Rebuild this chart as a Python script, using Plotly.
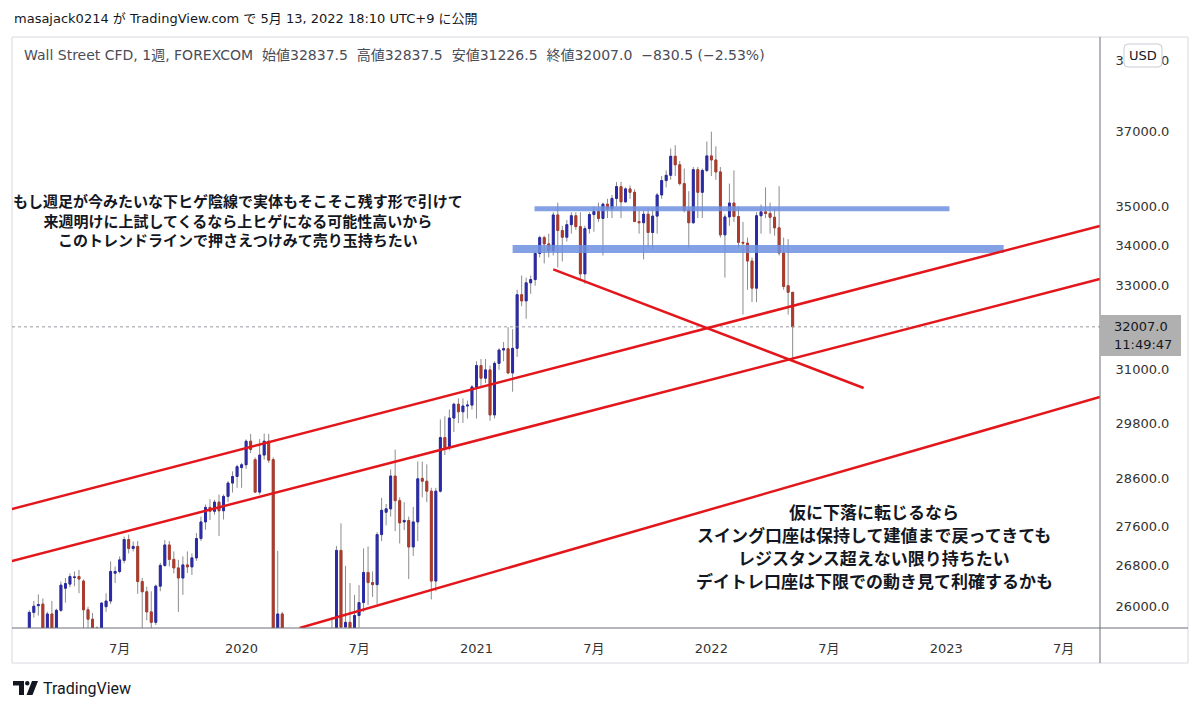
import math
import pandas as pd
import plotly.graph_objects as go

# ---------------- data (weekly candles, Wall Street CFD) ----------------
week_start = "2019-02-11"
open_ = [25110, 25890, 26020, 26050, 25460, 25860, 25510, 25930, 26360, 26440,
         26570, 26590, 26500, 25940, 25760, 25590, 24820, 26000, 26110, 26655,
         26690, 26910, 27330, 27150, 27190, 26490, 26290, 25900, 25700, 26400,
         26810, 27220, 26930, 26760, 26560, 26820, 26780, 26960, 27350, 27690,
         27990, 27910, 28100, 27920, 28220, 28500, 28640, 28830, 28890, 29400,
         29000, 28310, 29100, 29400, 29000, 25200, 25860, 23190, 19170, 21640,
         21050, 23720, 24240, 23780, 23720, 24330, 23690, 24470, 25380, 27110,
         25610, 25700, 25020, 25830, 26080, 26670, 26470, 26430, 27430, 27890,
         27960, 28650, 28130, 27690, 27720, 27180, 27690, 28600, 28540, 28330,
         26500, 28330, 29480, 29260, 29910, 30220, 30050, 30180, 30200, 30610,
         31100, 30810, 31000, 29980, 31150, 31460, 31490, 30930, 31500, 32780,
         32630, 33070, 33150, 33800, 34200, 34040, 33870, 34780, 34380, 34210,
         34530, 34760, 34480, 33290, 34430, 34790, 34870, 34690, 35060, 34940,
         35210, 35520, 35120, 35460, 35370, 34610, 34580, 34800, 34330, 34750,
         35300, 35680, 35820, 36330, 36100, 35600, 34900, 34580, 35970, 35370,
         35950, 36340, 36230, 35910, 34270, 34730, 35090, 34740, 34080, 34060,
         33610, 32940, 34760, 34860, 34820, 34720, 34450, 33810, 33000, 32837.5]
high = [25930, 26110, 26240, 26160, 25900, 26110, 25960, 26490, 26560, 26650,
        26690, 26720, 26530, 26000, 25880, 25620, 26080, 26260, 26890, 26790,
        26990, 27390, 27430, 27290, 27300, 26560, 26390, 26300, 26430, 26860,
        27320, 27300, 27090, 26920, 26990, 27090, 27050, 27460, 27800, 28050,
        28160, 28150, 28260, 28260, 28540, 28750, 28890, 28930, 29440, 29560,
        29050, 29450, 29570, 29560, 29050, 27100, 25900, 23500, 22600, 22300,
        23900, 24300, 24300, 24800, 24400, 24400, 24800, 25800, 27200, 27660,
        26800, 26460, 26230, 26420, 27150, 27190, 26690, 27480, 28190, 28060,
        28790, 29220, 28200, 28100, 27800, 28000, 28960, 28960, 28900, 28400,
        28400, 29880, 29950, 30100, 30250, 30350, 30350, 30300, 30650, 31200,
        31250, 31250, 31100, 31200, 31500, 31650, 32000, 31950, 32900, 33250,
        33200, 33250, 33850, 34250, 34250, 34300, 34850, 35100, 34500, 34650,
        34850, 34850, 34850, 34500, 34850, 35000, 35100, 35100, 35200, 35300,
        35640, 35650, 35500, 35550, 35450, 34900, 34900, 34950, 34950, 35350,
        35800, 35950, 36540, 36630, 36200, 36000, 35400, 36040, 36040, 36000,
        36730, 37000, 36600, 36040, 34800, 35600, 35950, 35000, 34600, 34200,
        33700, 34850, 35050, 35500, 35100, 34950, 35530, 34200, 34160, 32837.5]
low = [24950, 25790, 25830, 25200, 25350, 25210, 25330, 25900, 26080, 26380,
       26400, 26260, 25500, 25220, 25450, 24680, 24700, 25900, 26050, 26460,
       26650, 26850, 27050, 27090, 26250, 25580, 25740, 25560, 25650, 26300,
       26780, 26790, 26650, 25900, 26230, 26660, 26620, 26900, 27300, 27530,
       27730, 27840, 27400, 27740, 28100, 28300, 28400, 28400, 28800, 29140,
       28290, 28260, 29000, 28930, 24680, 24900, 21150, 18200, 18900, 20700,
       21000, 23000, 23100, 23600, 23300, 23200, 23600, 24400, 25300, 25100,
       25100, 24850, 24800, 25600, 25900, 26030, 26190, 26050, 27300, 27620,
       27800, 27500, 27250, 27520, 26540, 27000, 27300, 28200, 28100, 26140,
       26300, 28300, 29100, 29200, 29600, 29800, 29800, 29900, 30100, 29900,
       30600, 30700, 29850, 29900, 31000, 31200, 30900, 30500, 31300, 32500,
       32200, 32800, 33000, 33700, 33550, 33700, 33750, 33450, 33600, 34100,
       34300, 34400, 33160, 33050, 34300, 34350, 34600, 33750, 34700, 34700,
       35000, 34700, 35100, 35200, 34600, 34300, 33650, 33950, 33900, 34300,
       35200, 35500, 35700, 35800, 35550, 34850, 33920, 34550, 34700, 34700,
       35900, 35800, 35700, 34200, 33200, 34500, 34600, 33950, 32300, 32900,
       32600, 32600, 34300, 34700, 34300, 34250, 33750, 32900, 32300, 31226.5]
close = [25890, 26010, 26040, 25460, 25860, 25510, 25930, 26420, 26450, 26590,
         26580, 26540, 25940, 25760, 25590, 24820, 26070, 26110, 26690, 26690,
         26920, 27330, 27150, 27190, 26490, 26290, 25900, 25700, 26400, 26810,
         27220, 26930, 26760, 26560, 26820, 26780, 26960, 27350, 27690, 27990,
         27910, 28100, 27920, 28220, 28500, 28640, 28850, 28890, 29400, 29220,
         28310, 29100, 29400, 28990, 25410, 25860, 23190, 19170, 21640, 21050,
         23720, 24240, 23780, 23720, 24330, 23690, 24470, 25380, 27110, 25610,
         25700, 25020, 25830, 26080, 26670, 26470, 26430, 27430, 27930, 27960,
         28650, 28130, 27670, 27720, 27180, 27690, 28590, 28540, 28330, 26500,
         28330, 29480, 29260, 29910, 30220, 30050, 30180, 30200, 30610, 31100,
         30810, 31000, 29980, 31150, 31460, 31490, 30930, 31500, 32780, 32630,
         33070, 33150, 33800, 34200, 34040, 33870, 34780, 34380, 34210, 34530,
         34760, 34480, 33290, 34430, 34790, 34870, 34690, 35060, 34940, 35210,
         35520, 35120, 35460, 35370, 34610, 34580, 34800, 34330, 34750, 35300,
         35680, 35820, 36330, 36100, 35600, 34900, 34580, 35970, 35370, 35950,
         36340, 36230, 35910, 34270, 34730, 35090, 34740, 34080, 34060, 33610,
         32940, 34760, 34860, 34820, 34720, 34450, 33810, 32980, 32840, 32007.0]

price_ticks = [26000, 26800, 27600, 28600, 29800, 31000, 33000, 34000, 35000, 37000, 39000]
time_tick_dates = ["2019-07-01", "2020-01-06", "2020-07-06", "2021-01-04", "2021-07-05",
                   "2022-01-03", "2022-07-04", "2023-01-02", "2023-07-03"]
time_tick_labels = ["7月", "2020", "7月", "2021", "7月", "2022", "7月", "2023", "7月"]

last_price = 32007.0
countdown = "11:49:47"

# drawings (date, price) endpoints
upper_channel_x = ["2019-01-15", "2023-08-28"]
upper_channel_y = [27957, 34496]
middle_channel_x = ["2019-01-15", "2023-08-28"]
middle_channel_y = [26898, 33164]
lower_channel_x = ["2020-04-05", "2023-08-28"]
lower_channel_y = [25592, 30382]
down_line_x = ["2021-05-03", "2022-08-27"]
down_line_y = [33404, 30585]
resist_upper_x = ["2021-04-04", "2023-01-07"]
resist_upper_y = [34940, 34940]
resist_lower_x = ["2021-03-01", "2023-04-01"]
resist_lower_y = [33912, 33912]

header_text = "masajack0214 が TradingView.com で 5月 13, 2022 18:10 UTC+9 に公開"
legend_text = ("Wall Street CFD, 1週, FOREXCOM  始値32837.5  高値32837.5  "
               "安値31226.5  終値32007.0  −830.5 (−2.53%)")
note_top = ("もし週足が今みたいな下ヒゲ陰線で実体もそこそこ残す形で引けて<br>"
            "来週明けに上試してくるなら上ヒゲになる可能性高いから<br>"
            "このトレンドラインで押さえつけみて売り玉持ちたい")
note_bottom_lines = ["仮に下落に転じるなら",
                     "スイング口座は保持して建値まで戻ってきても",
                     "レジスタンス超えない限り持ちたい",
                     "デイトレ口座は下限での動き見て利確するかも"]

# ---------------- layout geometry ----------------
W, H = 1200, 710
ML, MR, MT, MB = 12, 100, 38, 82
PW, PH = W - ML - MR, H - MT - MB


def px(x):
    return (x - ML) / PW


def py(y):
    return (H - MB - y) / PH


x_range = ["2019-01-15 04:30", "2023-08-28 07:00"]
y_range = [math.log10(25592), math.log10(39665)]

dates = pd.date_range(week_start, periods=len(open_), freq="7D")
body_hi = [max(o, c) for o, c in zip(open_, close)]
body_lo = [min(o, c) for o, c in zip(open_, close)]

UP = "#2a2aa8"
DOWN = "#ad3a2c"
WICK = "#8c8c8c"
RED = "#e3161b"
BAND = "rgba(110,145,225,0.85)"
LATIN = "DejaVu Sans, Noto Sans CJK JP"
CJK = "Noto Sans CJK JP"

fig = go.Figure()

# wicks (grey)
fig.add_trace(go.Candlestick(
    x=dates, open=open_, high=high, low=low, close=close,
    increasing=dict(line=dict(color=WICK, width=1), fillcolor=WICK),
    decreasing=dict(line=dict(color=WICK, width=1), fillcolor=WICK),
    hoverinfo="skip", showlegend=False))
# bodies (coloured)
fig.add_trace(go.Candlestick(
    x=dates, open=open_, high=body_hi, low=body_lo, close=close,
    increasing=dict(line=dict(color=UP, width=1), fillcolor=UP),
    decreasing=dict(line=dict(color=DOWN, width=1), fillcolor=DOWN),
    hoverinfo="skip", showlegend=False))

# last price dotted line
fig.add_trace(go.Scatter(x=x_range, y=[last_price, last_price], mode="lines",
                         line=dict(color="#9a9ca3", width=1, dash="dot"),
                         hoverinfo="skip", showlegend=False))

# horizontal resistance bands
for xs, ys, w in [(resist_upper_x, resist_upper_y, 5), (resist_lower_x, resist_lower_y, 8)]:
    fig.add_trace(go.Scatter(x=xs, y=ys, mode="lines", line=dict(color=BAND, width=w),
                             hoverinfo="skip", showlegend=False))

# red trend lines
for xs, ys in [(upper_channel_x, upper_channel_y), (middle_channel_x, middle_channel_y),
               (lower_channel_x, lower_channel_y), (down_line_x, down_line_y)]:
    fig.add_trace(go.Scatter(x=xs, y=ys, mode="lines", line=dict(color=RED, width=2.5),
                             hoverinfo="skip", showlegend=False))

shapes = [
    # outer frame
    dict(type="rect", xref="paper", yref="paper", x0=px(12), x1=px(1188), y0=py(663), y1=py(37),
         line=dict(color="#d6d8de", width=1), fillcolor="rgba(0,0,0,0)", layer="below"),
    # price scale separator
    dict(type="line", xref="paper", yref="paper", x0=px(1100), x1=px(1100), y0=py(663), y1=py(37),
         line=dict(color="#6b6e78", width=1)),
    # time scale separator
    dict(type="line", xref="paper", yref="paper", x0=px(12), x1=px(1188), y0=py(628), y1=py(628),
         line=dict(color="#6b6e78", width=1)),
    # last price box
    dict(type="rect", xref="paper", yref="paper", x0=px(1100), x1=px(1181), y0=py(356), y1=py(315),
         line=dict(width=0), fillcolor="#b0b0b0"),
    # USD badge (rounded)
    dict(type="path", xref="paper", yref="paper",
         path=(f"M {px(1128)},{py(44)} L {px(1158)},{py(44)} Q {px(1162)},{py(44)} {px(1162)},{py(48)} "
               f"L {px(1162)},{py(63)} Q {px(1162)},{py(67)} {px(1158)},{py(67)} "
               f"L {px(1128)},{py(67)} Q {px(1124)},{py(67)} {px(1124)},{py(63)} "
               f"L {px(1124)},{py(48)} Q {px(1124)},{py(44)} {px(1128)},{py(44)} Z"),
         fillcolor="#ffffff", line=dict(color="#c9cbd1", width=1)),
    # TradingView logo (approximation)
    dict(type="path", xref="paper", yref="paper",
         path=(f"M {px(13)},{py(681)} L {px(24)},{py(681)} L {px(24)},{py(695)} L {px(19)},{py(695)} "
               f"L {px(19)},{py(685.5)} L {px(13)},{py(685.5)} Z"),
         fillcolor="#131722", line=dict(width=0)),
    dict(type="circle", xref="paper", yref="paper", x0=px(25), x1=px(29.5), y0=py(685.5), y1=py(681),
         fillcolor="#131722", line=dict(width=0)),
    dict(type="path", xref="paper", yref="paper",
         path=(f"M {px(32)},{py(681)} L {px(38)},{py(681)} L {px(32.5)},{py(695)} L {px(26.5)},{py(695)} Z"),
         fillcolor="#131722", line=dict(width=0)),
]

annotations = [
    dict(x=px(12), y=py(18), xref="paper", yref="paper", text=header_text, showarrow=False,
         xanchor="left", yanchor="middle", font=dict(family=LATIN, size=13, color="#131722")),
    dict(x=px(22), y=py(55), xref="paper", yref="paper", text=legend_text, showarrow=False,
         xanchor="left", yanchor="middle", font=dict(family=LATIN, size=14, color="#4a4d57")),
    dict(x=px(238), y=py(220), xref="paper", yref="paper", text=note_top, showarrow=False,
         xanchor="center", yanchor="middle", align="center",
         font=dict(family=CJK, size=15, color="#131722", weight="bold")),
    dict(x=px(1143), y=py(55.5), xref="paper", yref="paper", text="USD", showarrow=False,
         xanchor="center", yanchor="middle",
         font=dict(family=LATIN, size=13, color="#131722")),
    dict(x=px(1112), y=py(326), xref="paper", yref="paper", text=f"{last_price:.1f}", showarrow=False,
         xanchor="left", yanchor="middle", font=dict(family=LATIN, size=13, color="#131722")),
    dict(x=px(1112), y=py(344), xref="paper", yref="paper", text=countdown, showarrow=False,
         xanchor="left", yanchor="middle", font=dict(family=LATIN, size=13, color="#131722")),
    dict(x=px(41), y=py(688), xref="paper", yref="paper", text="TradingView", showarrow=False,
         xanchor="left", yanchor="middle", font=dict(family="Roboto, DejaVu Sans", size=16, color="#131722")),
]
for i, line_text in enumerate(note_bottom_lines):
    annotations.append(dict(
        x=px(874), y=py(511.5 + 23 * i), xref="paper", yref="paper", text=line_text,
        showarrow=False, xanchor="center", yanchor="middle", borderpad=0,
        font=dict(family=CJK, size=17, color="#131722", weight="bold")))

fig.update_layout(
    width=W, height=H,
    margin=dict(l=ML, r=MR, t=MT, b=MB),
    paper_bgcolor="#ffffff", plot_bgcolor="#ffffff",
    showlegend=False,
    boxgap=0.4,
    shapes=shapes, annotations=annotations,
    xaxis=dict(type="date", range=x_range, rangeslider=dict(visible=False),
               tickmode="array", tickvals=time_tick_dates, ticktext=time_tick_labels,
               showgrid=False, zeroline=False, showline=False,
               ticks="outside", ticklen=8, tickcolor="rgba(0,0,0,0)",
               tickfont=dict(family=LATIN, size=13, color="#333333"), fixedrange=True),
    yaxis=dict(type="log", range=y_range, side="right",
               tickmode="array", tickvals=price_ticks, ticktext=[f"{v:.1f}" for v in price_ticks],
               showgrid=False, zeroline=False, showline=False,
               ticks="outside", ticklen=6, tickcolor="rgba(0,0,0,0)", ticklabelstandoff=6,
               tickfont=dict(family=LATIN, size=13, color="#333333"), fixedrange=True),
)

fig.write_html("out.html")
